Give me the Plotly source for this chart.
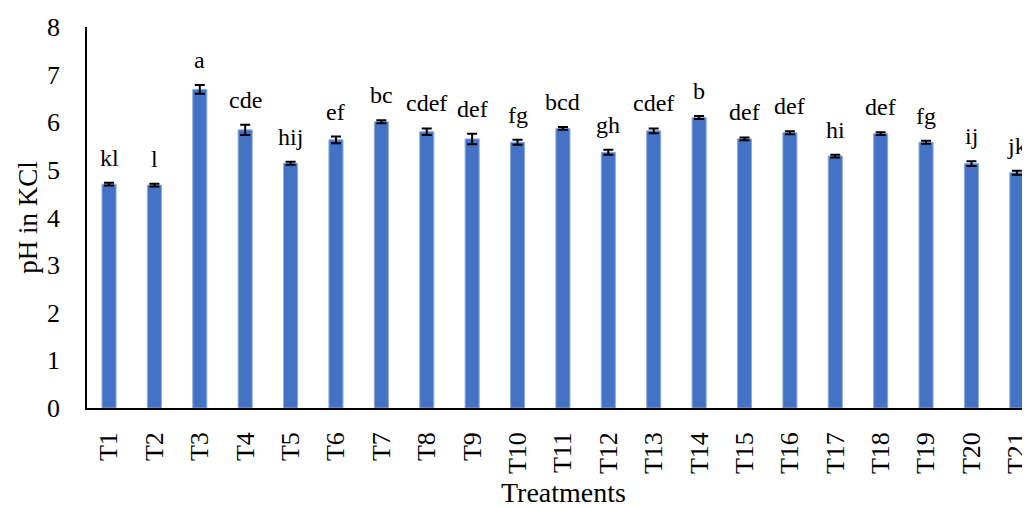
import plotly.graph_objects as go

treatments = [f"T{i}" for i in range(1, 22)]
ph_values = [4.70, 4.68, 6.69, 5.84, 5.14, 5.63, 6.01, 5.80, 5.65, 5.58, 5.87,
             5.37, 5.82, 6.10, 5.65, 5.78, 5.29, 5.76, 5.58, 5.13, 4.94]
ph_errors = [0.03, 0.03, 0.09, 0.11, 0.03, 0.07, 0.03, 0.07, 0.11, 0.05, 0.03,
             0.05, 0.05, 0.03, 0.03, 0.03, 0.03, 0.03, 0.03, 0.05, 0.04]
letters = ["kl", "l", "a", "cde", "hij", "ef", "bc", "cdef", "def", "fg", "bcd",
           "gh", "cdef", "b", "def", "def", "hi", "def", "fg", "ij", "jk"]

font_family = "Liberation Serif, Times New Roman, serif"

fig = go.Figure()
fig.add_trace(go.Bar(
    x=treatments, y=ph_values, width=0.31,
    marker=dict(color="#4472C4", line=dict(color="#8FAADC", width=1)),
    error_y=dict(type="data", array=ph_errors, visible=True,
                 color="black", thickness=2, width=5),
    showlegend=False,
))

for t, v, e, lab in zip(treatments, ph_values, ph_errors, letters):
    fig.add_annotation(x=t, y=v + e, text=lab, showarrow=False,
                       yanchor="bottom", yshift=10,
                       font=dict(family=font_family, size=24, color="black"))

fig.add_annotation(xref="paper", yref="paper", x=0.505, y=0,
                   text="Treatments", showarrow=False,
                   yanchor="middle", yshift=-84,
                   font=dict(family=font_family, size=28, color="black"))

fig.update_layout(
    width=1022, height=500,
    margin=dict(l=79, r=0, t=19, b=100),
    paper_bgcolor="white", plot_bgcolor="white",
    font=dict(family=font_family, color="black"),
    bargap=0.69,
)
fig.update_xaxes(
    range=[-0.485, 20.29], showline=True, linecolor="black", linewidth=1.5,
    tickangle=-90, tickfont=dict(size=26), ticks="", automargin=False,
    ticklabelstandoff=12,
)
fig.update_yaxes(
    range=[0, 8], dtick=1, showline=True, linecolor="black", linewidth=1.5,
    showgrid=False, zeroline=False, tickfont=dict(size=26), ticks="",
    automargin=False, ticklabelstandoff=20,
    title=dict(text="pH in KCl", font=dict(size=27), standoff=2),
)

fig.write_html("out.html")
